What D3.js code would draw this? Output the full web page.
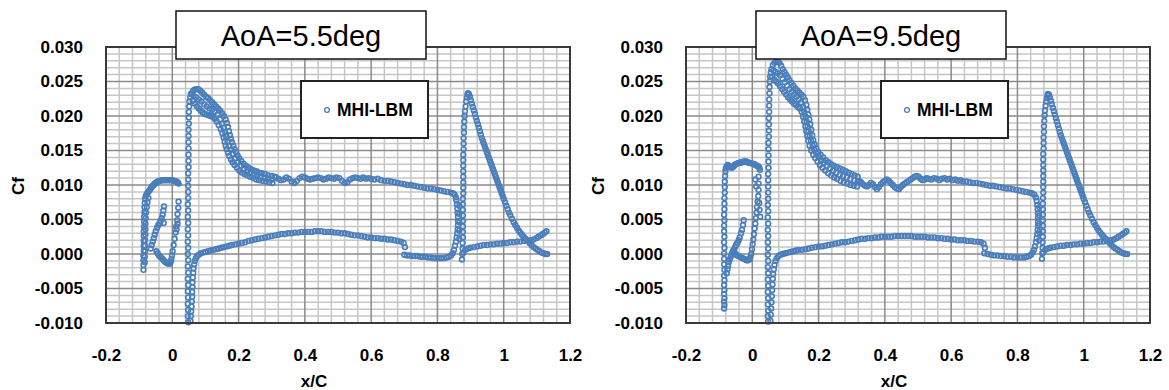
<!DOCTYPE html>
<html lang="en">
<head>
<meta charset="UTF-8">
<title>Cf distribution - MHI-LBM</title>
<script src="https://d3js.org/d3.v7.min.js"></script>
<style>
  body { margin: 0; background: #fff; }
  text { font-family: "Liberation Sans", Arial, sans-serif; }
</style>
</head>
<body>
<script>
// Axis ticks
const xTicks = [-0.2, 0, 0.2, 0.4, 0.6, 0.8, 1, 1.2];
const xTickLabels = ['-0.2', '0', '0.2', '0.4', '0.6', '0.8', '1', '1.2'];
const yTicks = [-0.010, -0.005, 0.000, 0.005, 0.010, 0.015, 0.020, 0.025, 0.030];
const yTickLabels = ['-0.010', '-0.005', '0.000', '0.005', '0.010', '0.015', '0.020', '0.025', '0.030'];
const titles = ['AoA=5.5deg', 'AoA=9.5deg'];
const seriesName = 'MHI-LBM';

// ---------- AoA = 5.5 deg  (x/C, Cf) ----------
const slatTopA = [[-0.087,-0.0023],[-0.087,-0.0016],[-0.087,-0.0009],[-0.087,-0.0002],[-0.086,0.0005],[-0.086,0.0012],[-0.086,0.0019],[-0.086,0.0026],[-0.086,0.0033],[-0.085,0.0040],[-0.085,0.0047],[-0.085,0.0054],[-0.084,0.0061],[-0.084,0.0068],[-0.083,0.0074],[-0.082,0.0080],[-0.080,0.0084],[-0.077,0.0087],[-0.074,0.0089],[-0.071,0.0091],[-0.068,0.0093],[-0.065,0.0095],[-0.062,0.0097],[-0.059,0.0099],[-0.056,0.0100],[-0.053,0.0102],[-0.050,0.0103],[-0.047,0.0104],[-0.044,0.0105],[-0.040,0.0106],[-0.036,0.0106],[-0.032,0.0107],[-0.028,0.0107],[-0.024,0.0107],[-0.020,0.0107],[-0.016,0.0107],[-0.012,0.0107],[-0.008,0.0107],[-0.004,0.0107],[0.000,0.0107],[0.004,0.0106],[0.008,0.0106],[0.012,0.0105],[0.016,0.0104],[0.019,0.0102]];
const slatInnerA = [[-0.083,-0.0012],[-0.083,-0.0004],[-0.082,0.0004],[-0.082,0.0012],[-0.082,0.0020],[-0.081,0.0028],[-0.081,0.0036],[-0.081,0.0044],[-0.080,0.0052],[-0.079,0.0060],[-0.077,0.0068],[-0.075,0.0075],[-0.072,0.0081]];
const slatBranchA = [[-0.025,0.0069],[-0.027,0.0063],[-0.029,0.0057],[-0.032,0.0052],[-0.035,0.0048],[-0.038,0.0045],[-0.042,0.0042],[-0.046,0.0038],[-0.050,0.0033],[-0.053,0.0028],[-0.056,0.0023],[-0.059,0.0018],[-0.062,0.0013],[-0.065,0.0008],[-0.026,0.0045]];
const slatHookA = [[-0.048,0.0004],[-0.044,0.0001],[-0.040,-0.0002],[-0.036,-0.0004],[-0.032,-0.0006],[-0.028,-0.0008],[-0.024,-0.0010],[-0.020,-0.0012],[-0.016,-0.0013],[-0.012,-0.0014],[-0.008,-0.0014],[-0.005,-0.0012],[-0.003,-0.0008],[-0.001,-0.0002],[0.001,0.0004],[0.004,0.0013],[0.007,0.0022],[0.010,0.0031],[0.012,0.0040],[0.015,0.0049],[0.016,0.0058],[0.018,0.0067],[0.019,0.0076],[0.013,0.0036],[0.016,0.0044]];
const mainLEA = [[0.048,-0.0099],[0.047,-0.0090],[0.048,-0.0081],[0.047,-0.0072],[0.048,-0.0063],[0.047,-0.0054],[0.048,-0.0045],[0.047,-0.0036],[0.048,-0.0027],[0.047,-0.0018],[0.048,-0.0009],[0.047,0.0000],[0.048,0.0009],[0.047,0.0018],[0.048,0.0027],[0.047,0.0036],[0.048,0.0045],[0.047,0.0054],[0.048,0.0063],[0.047,0.0072],[0.048,0.0081],[0.048,0.0090],[0.048,0.0099],[0.048,0.0108],[0.048,0.0117],[0.049,0.0126],[0.049,0.0135],[0.049,0.0144],[0.049,0.0153],[0.049,0.0162],[0.049,0.0171],[0.049,0.0180],[0.050,0.0189],[0.050,0.0198],[0.050,0.0206],[0.051,0.0214],[0.052,0.0221],[0.054,0.0227],[0.056,0.0232]];
const mainUpperA1 = [[0.058,0.0232],[0.062,0.0236],[0.067,0.0238],[0.072,0.0239],[0.078,0.0239],[0.084,0.0237],[0.090,0.0234],[0.096,0.0231],[0.102,0.0228],[0.108,0.0226],[0.114,0.0223],[0.120,0.0220],[0.126,0.0217],[0.132,0.0214],[0.138,0.0211],[0.144,0.0208],[0.150,0.0204],[0.156,0.0200],[0.161,0.0195],[0.165,0.0190],[0.168,0.0184],[0.171,0.0178],[0.174,0.0172],[0.177,0.0167],[0.180,0.0162],[0.184,0.0157],[0.188,0.0152],[0.192,0.0148],[0.197,0.0143],[0.202,0.0139],[0.208,0.0135],[0.215,0.0131],[0.222,0.0128],[0.230,0.0125],[0.238,0.0123],[0.246,0.0121],[0.254,0.0120],[0.262,0.0118],[0.270,0.0117],[0.280,0.0116],[0.290,0.0114],[0.300,0.0113],[0.310,0.0112]];
const mainUpperAm = [[0.064,0.0229],[0.072,0.0227],[0.080,0.0224],[0.088,0.0221],[0.096,0.0217],[0.104,0.0214],[0.112,0.0211],[0.120,0.0209],[0.128,0.0206],[0.136,0.0202],[0.144,0.0195],[0.150,0.0189],[0.155,0.0183],[0.159,0.0177],[0.163,0.0170],[0.167,0.0163],[0.172,0.0157],[0.177,0.0151],[0.183,0.0145],[0.190,0.0139],[0.198,0.0133],[0.207,0.0128],[0.216,0.0124],[0.226,0.0120],[0.236,0.0117],[0.246,0.0115],[0.256,0.0114],[0.266,0.0112],[0.278,0.0110],[0.290,0.0109],[0.302,0.0108]];
const mainUpperA2 = [[0.062,0.0222],[0.068,0.0218],[0.074,0.0214],[0.080,0.0211],[0.086,0.0208],[0.092,0.0205],[0.098,0.0203],[0.104,0.0202],[0.110,0.0201],[0.116,0.0200],[0.122,0.0199],[0.128,0.0196],[0.134,0.0192],[0.140,0.0187],[0.146,0.0181],[0.151,0.0175],[0.155,0.0169],[0.158,0.0163],[0.161,0.0157],[0.164,0.0152],[0.168,0.0147],[0.172,0.0142],[0.177,0.0137],[0.182,0.0133],[0.188,0.0129],[0.195,0.0125],[0.202,0.0121],[0.210,0.0118],[0.218,0.0116],[0.226,0.0114],[0.235,0.0112],[0.244,0.0110],[0.253,0.0108],[0.262,0.0107],[0.272,0.0106],[0.282,0.0105],[0.292,0.0104],[0.302,0.0103]];
const mainUpperA3 = [[0.312,0.0111],[0.320,0.0109],[0.328,0.0107],[0.336,0.0108],[0.344,0.0111],[0.352,0.0109],[0.360,0.0105],[0.368,0.0103],[0.376,0.0106],[0.384,0.0110],[0.392,0.0112],[0.400,0.0111],[0.408,0.0109],[0.416,0.0108],[0.424,0.0109],[0.432,0.0110],[0.440,0.0111],[0.448,0.0110],[0.456,0.0108],[0.464,0.0109],[0.472,0.0111],[0.480,0.0110],[0.488,0.0109],[0.496,0.0111],[0.504,0.0110],[0.512,0.0106],[0.520,0.0103],[0.528,0.0104],[0.536,0.0108],[0.544,0.0110],[0.552,0.0111],[0.560,0.0110],[0.568,0.0109],[0.576,0.0111],[0.584,0.0109],[0.592,0.0110],[0.600,0.0109],[0.610,0.0108],[0.620,0.0109],[0.630,0.0107],[0.640,0.0106],[0.650,0.0106],[0.660,0.0105],[0.670,0.0104],[0.680,0.0103],[0.690,0.0102],[0.700,0.0101],[0.710,0.0100],[0.720,0.0100],[0.730,0.0099],[0.740,0.0098],[0.750,0.0097],[0.760,0.0096],[0.770,0.0095],[0.780,0.0095],[0.790,0.0094],[0.800,0.0093],[0.810,0.0092],[0.820,0.0091],[0.830,0.0090],[0.840,0.0089],[0.847,0.0088],[0.852,0.0086],[0.856,0.0082]];
const mainTEA = [[0.857,0.0078],[0.859,0.0072],[0.860,0.0066],[0.861,0.0060],[0.862,0.0054],[0.862,0.0048],[0.862,0.0042],[0.861,0.0036],[0.860,0.0030],[0.858,0.0024],[0.856,0.0018],[0.853,0.0012],[0.850,0.0006],[0.846,0.0001],[0.866,0.0070],[0.866,0.0058],[0.866,0.0046],[0.866,0.0034],[0.866,0.0022]];
const mainLowerA = [[0.055,-0.0097],[0.056,-0.0090],[0.057,-0.0083],[0.058,-0.0076],[0.059,-0.0069],[0.060,-0.0062],[0.060,-0.0055],[0.061,-0.0048],[0.061,-0.0041],[0.062,-0.0034],[0.063,-0.0027],[0.064,-0.0021],[0.066,-0.0015],[0.068,-0.0010],[0.071,-0.0006],[0.075,-0.0003],[0.080,-0.0001],[0.086,0.0001],[0.093,0.0002],[0.100,0.0003],[0.108,0.0004],[0.116,0.0005],[0.124,0.0006],[0.132,0.0007],[0.140,0.0008],[0.148,0.0009],[0.156,0.0010],[0.164,0.0011],[0.172,0.0012],[0.180,0.0013],[0.190,0.0014],[0.200,0.0015],[0.210,0.0016],[0.220,0.0017],[0.230,0.0019],[0.240,0.0020],[0.250,0.0021],[0.260,0.0022],[0.270,0.0023],[0.280,0.0024],[0.290,0.0025],[0.300,0.0026],[0.310,0.0027],[0.320,0.0028],[0.330,0.0029],[0.340,0.0029],[0.350,0.0030],[0.360,0.0030],[0.370,0.0031],[0.380,0.0031],[0.390,0.0032],[0.400,0.0032],[0.410,0.0032],[0.420,0.0032],[0.430,0.0033],[0.440,0.0033],[0.450,0.0033],[0.460,0.0032],[0.470,0.0032],[0.480,0.0032],[0.490,0.0031],[0.500,0.0031],[0.510,0.0030],[0.520,0.0030],[0.530,0.0029],[0.540,0.0028],[0.550,0.0027],[0.560,0.0027],[0.570,0.0026],[0.580,0.0025],[0.590,0.0024],[0.600,0.0024],[0.610,0.0023],[0.620,0.0023],[0.630,0.0022],[0.640,0.0022],[0.650,0.0021],[0.660,0.0021],[0.670,0.0020],[0.680,0.0019],[0.690,0.0018],[0.698,0.0016],[0.702,0.0010]];
const coveA = [[0.700,-0.0001],[0.708,-0.0002],[0.716,-0.0002],[0.724,-0.0003],[0.732,-0.0003],[0.740,-0.0003],[0.748,-0.0004],[0.756,-0.0004],[0.764,-0.0004],[0.772,-0.0005],[0.780,-0.0005],[0.788,-0.0006],[0.796,-0.0006],[0.804,-0.0006],[0.812,-0.0006],[0.820,-0.0006],[0.828,-0.0005],[0.835,-0.0004],[0.841,-0.0002]];
const flapLEA = [[0.874,-0.0008],[0.875,0.0000],[0.876,0.0008],[0.876,0.0016],[0.877,0.0024],[0.877,0.0032],[0.877,0.0040],[0.877,0.0048],[0.877,0.0056],[0.877,0.0064],[0.877,0.0072],[0.877,0.0080],[0.878,0.0088],[0.878,0.0096],[0.878,0.0104],[0.878,0.0112],[0.878,0.0120],[0.878,0.0128],[0.878,0.0136],[0.878,0.0144],[0.879,0.0152],[0.879,0.0160],[0.879,0.0168],[0.880,0.0176],[0.880,0.0184],[0.881,0.0192],[0.882,0.0200],[0.883,0.0207],[0.885,0.0214],[0.887,0.0221],[0.889,0.0227],[0.891,0.0231]];
const flapUpperA = [[0.892,0.0233],[0.895,0.0232],[0.898,0.0228],[0.901,0.0223],[0.904,0.0218],[0.907,0.0213],[0.910,0.0208],[0.913,0.0203],[0.916,0.0198],[0.919,0.0193],[0.922,0.0188],[0.925,0.0183],[0.928,0.0178],[0.931,0.0173],[0.934,0.0168],[0.937,0.0164],[0.940,0.0160],[0.943,0.0156],[0.946,0.0152],[0.949,0.0148],[0.952,0.0144],[0.955,0.0140],[0.958,0.0136],[0.961,0.0132],[0.964,0.0128],[0.967,0.0124],[0.970,0.0120],[0.973,0.0116],[0.976,0.0112],[0.979,0.0108],[0.982,0.0104],[0.985,0.0100],[0.988,0.0096],[0.991,0.0092],[0.994,0.0088],[0.997,0.0084],[1.000,0.0080],[1.004,0.0075],[1.008,0.0070],[1.012,0.0065],[1.016,0.0060],[1.020,0.0056],[1.025,0.0051],[1.030,0.0046],[1.035,0.0042],[1.040,0.0038],[1.045,0.0034],[1.050,0.0031],[1.055,0.0028],[1.060,0.0025],[1.066,0.0022],[1.072,0.0019],[1.078,0.0016],[1.084,0.0013],[1.090,0.0010],[1.096,0.0008],[1.102,0.0006],[1.108,0.0004],[1.114,0.0002],[1.120,0.0001],[1.126,0.0000],[1.131,0.0000]];
const flapLowerA = [[0.878,0.0002],[0.884,0.0006],[0.892,0.0008],[0.900,0.0009],[0.910,0.0010],[0.920,0.0011],[0.930,0.0012],[0.940,0.0013],[0.950,0.0013],[0.960,0.0014],[0.970,0.0014],[0.980,0.0015],[0.990,0.0015],[1.000,0.0016],[1.010,0.0016],[1.020,0.0017],[1.030,0.0017],[1.040,0.0018],[1.050,0.0018],[1.060,0.0019],[1.070,0.0019],[1.080,0.0020],[1.090,0.0021],[1.098,0.0023],[1.105,0.0025],[1.112,0.0027],[1.118,0.0029],[1.124,0.0031],[1.129,0.0033]];

// ---------- AoA = 9.5 deg  (x/C, Cf) ----------
const slatColB = [[-0.085,-0.0079],[-0.084,-0.0074],[-0.085,-0.0069],[-0.084,-0.0064],[-0.085,-0.0058],[-0.084,-0.0052],[-0.085,-0.0045],[-0.084,-0.0038],[-0.085,-0.0031],[-0.084,-0.0023],[-0.085,-0.0015],[-0.085,-0.0007],[-0.085,0.0001],[-0.084,0.0009],[-0.085,0.0017],[-0.084,0.0025],[-0.085,0.0033],[-0.085,0.0041],[-0.084,0.0049],[-0.085,0.0057],[-0.084,0.0065],[-0.084,0.0073],[-0.084,0.0081],[-0.083,0.0089],[-0.083,0.0097],[-0.083,0.0105],[-0.082,0.0113],[-0.081,0.0120]];
const slatTopB = [[-0.080,0.0124],[-0.077,0.0127],[-0.074,0.0129],[-0.071,0.0128],[-0.068,0.0127],[-0.065,0.0126],[-0.062,0.0125],[-0.059,0.0126],[-0.056,0.0127],[-0.053,0.0129],[-0.050,0.0130],[-0.046,0.0131],[-0.042,0.0132],[-0.038,0.0132],[-0.034,0.0133],[-0.030,0.0133],[-0.026,0.0134],[-0.022,0.0134],[-0.018,0.0134],[-0.014,0.0133],[-0.010,0.0132],[-0.006,0.0132],[-0.002,0.0131],[0.002,0.0131],[0.006,0.0130],[0.010,0.0129],[0.014,0.0128],[0.018,0.0127],[0.021,0.0125],[0.023,0.0122]];
const slatBranchB = [[-0.026,0.0049],[-0.028,0.0042],[-0.031,0.0035],[-0.034,0.0030],[-0.038,0.0024],[-0.041,0.0020],[-0.045,0.0016],[-0.049,0.0013],[-0.052,0.0010],[-0.056,0.0006],[-0.059,0.0003],[-0.062,0.0000],[-0.065,-0.0004],[-0.068,-0.0008],[-0.071,-0.0012],[-0.073,-0.0017],[-0.075,-0.0022],[-0.077,-0.0028]];
const slatHookB = [[-0.057,0.0005],[-0.053,0.0002],[-0.049,-0.0001],[-0.045,-0.0002],[-0.041,-0.0003],[-0.037,-0.0004],[-0.033,-0.0005],[-0.029,-0.0006],[-0.025,-0.0007],[-0.021,-0.0008],[-0.017,-0.0009],[-0.013,-0.0009],[-0.009,-0.0008],[-0.006,-0.0005],[-0.003,0.0000],[-0.001,0.0007],[0.001,0.0014],[0.003,0.0021],[0.005,0.0029],[0.007,0.0037],[0.009,0.0044],[0.011,0.0052],[0.013,0.0060],[0.014,0.0068],[0.016,0.0076],[0.018,0.0084],[0.019,0.0093],[0.019,0.0102],[0.019,0.0112],[0.009,0.0108],[0.012,0.0098],[0.024,0.0054],[0.022,0.0064],[0.021,0.0074]];
const mainLEB = [[0.048,-0.0098],[0.047,-0.0090],[0.048,-0.0082],[0.047,-0.0073],[0.048,-0.0064],[0.047,-0.0055],[0.048,-0.0046],[0.047,-0.0037],[0.048,-0.0028],[0.047,-0.0019],[0.048,-0.0010],[0.047,-0.0001],[0.048,0.0008],[0.047,0.0017],[0.048,0.0026],[0.047,0.0035],[0.048,0.0044],[0.047,0.0053],[0.048,0.0062],[0.047,0.0071],[0.048,0.0080],[0.048,0.0089],[0.048,0.0098],[0.048,0.0107],[0.048,0.0116],[0.049,0.0125],[0.049,0.0134],[0.049,0.0143],[0.049,0.0152],[0.049,0.0161],[0.050,0.0170],[0.050,0.0179],[0.050,0.0188],[0.050,0.0197],[0.051,0.0206],[0.051,0.0215],[0.051,0.0224],[0.052,0.0233],[0.052,0.0242],[0.053,0.0250],[0.054,0.0257],[0.056,0.0263]];
const mainUpperB1 = [[0.058,0.0268],[0.062,0.0274],[0.067,0.0277],[0.072,0.0279],[0.077,0.0279],[0.082,0.0277],[0.087,0.0273],[0.092,0.0268],[0.097,0.0264],[0.102,0.0260],[0.107,0.0256],[0.112,0.0252],[0.118,0.0248],[0.124,0.0244],[0.130,0.0240],[0.136,0.0237],[0.142,0.0234],[0.148,0.0231],[0.154,0.0228],[0.159,0.0223],[0.163,0.0216],[0.166,0.0209],[0.169,0.0202],[0.172,0.0195],[0.175,0.0188],[0.178,0.0180],[0.181,0.0172],[0.184,0.0165],[0.188,0.0159],[0.193,0.0153],[0.199,0.0148],[0.206,0.0144],[0.214,0.0140],[0.222,0.0136],[0.230,0.0133],[0.238,0.0130],[0.246,0.0128],[0.255,0.0126],[0.264,0.0124],[0.273,0.0122],[0.282,0.0120],[0.291,0.0118],[0.300,0.0116],[0.309,0.0114],[0.318,0.0112]];
const mainUpperBm = [[0.064,0.0266],[0.070,0.0264],[0.077,0.0262],[0.084,0.0259],[0.091,0.0254],[0.098,0.0249],[0.105,0.0244],[0.112,0.0239],[0.119,0.0235],[0.126,0.0231],[0.133,0.0228],[0.140,0.0224],[0.147,0.0220],[0.153,0.0213],[0.157,0.0206],[0.161,0.0199],[0.164,0.0192],[0.167,0.0185],[0.170,0.0178],[0.173,0.0171],[0.177,0.0164],[0.182,0.0157],[0.187,0.0151],[0.193,0.0146],[0.200,0.0141],[0.208,0.0136],[0.216,0.0132],[0.225,0.0128],[0.234,0.0124],[0.244,0.0121],[0.254,0.0118],[0.264,0.0115],[0.274,0.0113],[0.285,0.0111],[0.296,0.0109],[0.308,0.0107],[0.318,0.0105]];
const mainUpperB2 = [[0.060,0.0257],[0.066,0.0253],[0.072,0.0250],[0.078,0.0247],[0.084,0.0243],[0.090,0.0239],[0.096,0.0235],[0.102,0.0231],[0.108,0.0227],[0.114,0.0224],[0.120,0.0221],[0.126,0.0218],[0.132,0.0216],[0.138,0.0213],[0.144,0.0211],[0.149,0.0206],[0.153,0.0199],[0.157,0.0192],[0.160,0.0185],[0.163,0.0178],[0.166,0.0171],[0.169,0.0164],[0.173,0.0157],[0.178,0.0150],[0.184,0.0144],[0.190,0.0139],[0.197,0.0134],[0.204,0.0129],[0.212,0.0125],[0.220,0.0121],[0.229,0.0117],[0.238,0.0114],[0.247,0.0111],[0.256,0.0109],[0.266,0.0106],[0.276,0.0104],[0.286,0.0102],[0.296,0.0100],[0.306,0.0099],[0.316,0.0098]];
const mainUpperB3 = [[0.322,0.0106],[0.328,0.0104],[0.334,0.0101],[0.340,0.0099],[0.346,0.0098],[0.352,0.0100],[0.358,0.0103],[0.364,0.0101],[0.370,0.0097],[0.376,0.0094],[0.382,0.0097],[0.388,0.0101],[0.394,0.0104],[0.400,0.0106],[0.406,0.0108],[0.412,0.0106],[0.418,0.0103],[0.424,0.0100],[0.430,0.0097],[0.436,0.0095],[0.442,0.0094],[0.448,0.0097],[0.454,0.0100],[0.460,0.0102],[0.466,0.0104],[0.472,0.0106],[0.478,0.0108],[0.484,0.0110],[0.490,0.0112],[0.496,0.0113],[0.502,0.0112],[0.508,0.0109],[0.514,0.0107],[0.520,0.0108],[0.526,0.0110],[0.532,0.0109],[0.540,0.0108],[0.548,0.0110],[0.556,0.0109],[0.564,0.0107],[0.572,0.0109],[0.580,0.0110],[0.588,0.0108],[0.596,0.0109],[0.604,0.0107],[0.612,0.0108],[0.620,0.0106],[0.628,0.0107],[0.636,0.0105],[0.646,0.0105],[0.656,0.0104],[0.666,0.0103],[0.676,0.0103],[0.686,0.0102],[0.696,0.0101],[0.706,0.0100],[0.716,0.0099],[0.726,0.0099],[0.736,0.0098],[0.746,0.0097],[0.756,0.0096],[0.766,0.0095],[0.776,0.0095],[0.786,0.0094],[0.796,0.0093],[0.806,0.0092],[0.816,0.0091],[0.826,0.0090],[0.836,0.0089],[0.844,0.0088],[0.851,0.0086],[0.856,0.0082]];
const mainTEB = [[0.858,0.0077],[0.860,0.0071],[0.861,0.0065],[0.862,0.0059],[0.862,0.0053],[0.862,0.0047],[0.862,0.0041],[0.861,0.0035],[0.860,0.0029],[0.858,0.0023],[0.856,0.0017],[0.853,0.0011],[0.850,0.0006],[0.846,0.0002],[0.866,0.0068],[0.866,0.0056],[0.866,0.0044],[0.866,0.0032],[0.866,0.0020]];
const mainLowerB = [[0.055,-0.0097],[0.056,-0.0088],[0.057,-0.0079],[0.058,-0.0070],[0.059,-0.0061],[0.060,-0.0052],[0.061,-0.0044],[0.062,-0.0036],[0.063,-0.0029],[0.065,-0.0022],[0.067,-0.0016],[0.070,-0.0010],[0.074,-0.0006],[0.079,-0.0003],[0.085,-0.0001],[0.092,0.0000],[0.100,0.0001],[0.108,0.0002],[0.116,0.0003],[0.124,0.0004],[0.132,0.0005],[0.140,0.0006],[0.150,0.0006],[0.160,0.0007],[0.170,0.0008],[0.180,0.0009],[0.190,0.0010],[0.200,0.0011],[0.210,0.0011],[0.220,0.0012],[0.230,0.0013],[0.240,0.0014],[0.250,0.0015],[0.260,0.0016],[0.270,0.0017],[0.280,0.0017],[0.290,0.0018],[0.300,0.0019],[0.310,0.0020],[0.320,0.0021],[0.330,0.0022],[0.340,0.0022],[0.350,0.0023],[0.360,0.0023],[0.370,0.0024],[0.380,0.0024],[0.390,0.0025],[0.400,0.0025],[0.410,0.0025],[0.420,0.0025],[0.430,0.0026],[0.440,0.0026],[0.450,0.0026],[0.460,0.0026],[0.470,0.0026],[0.480,0.0026],[0.490,0.0025],[0.500,0.0025],[0.510,0.0025],[0.520,0.0025],[0.530,0.0024],[0.540,0.0024],[0.550,0.0024],[0.560,0.0023],[0.570,0.0023],[0.580,0.0022],[0.590,0.0022],[0.600,0.0021],[0.610,0.0021],[0.620,0.0020],[0.630,0.0020],[0.640,0.0020],[0.650,0.0019],[0.660,0.0019],[0.670,0.0018],[0.680,0.0018],[0.690,0.0017],[0.698,0.0015],[0.702,0.0009]];
const coveB = [[0.700,0.0001],[0.710,0.0000],[0.720,-0.0001],[0.730,-0.0002],[0.740,-0.0002],[0.750,-0.0003],[0.760,-0.0003],[0.770,-0.0004],[0.780,-0.0004],[0.790,-0.0005],[0.800,-0.0005],[0.810,-0.0005],[0.820,-0.0005],[0.828,-0.0004],[0.835,-0.0003],[0.841,-0.0001]];
const flapLEB = [[0.874,-0.0007],[0.875,0.0001],[0.876,0.0009],[0.876,0.0017],[0.877,0.0025],[0.877,0.0033],[0.877,0.0041],[0.877,0.0049],[0.877,0.0057],[0.877,0.0065],[0.877,0.0073],[0.877,0.0081],[0.878,0.0089],[0.878,0.0097],[0.878,0.0105],[0.878,0.0113],[0.878,0.0121],[0.878,0.0129],[0.878,0.0137],[0.878,0.0145],[0.879,0.0153],[0.879,0.0161],[0.879,0.0169],[0.880,0.0177],[0.880,0.0185],[0.881,0.0193],[0.882,0.0201],[0.883,0.0208],[0.885,0.0215],[0.887,0.0221],[0.889,0.0226],[0.891,0.0230]];
const flapUpperB = [[0.892,0.0232],[0.895,0.0231],[0.898,0.0227],[0.901,0.0222],[0.904,0.0217],[0.907,0.0212],[0.910,0.0207],[0.913,0.0202],[0.916,0.0197],[0.919,0.0192],[0.922,0.0187],[0.925,0.0182],[0.928,0.0177],[0.931,0.0172],[0.934,0.0168],[0.937,0.0164],[0.940,0.0160],[0.943,0.0156],[0.946,0.0152],[0.949,0.0148],[0.952,0.0144],[0.955,0.0140],[0.958,0.0136],[0.961,0.0132],[0.964,0.0128],[0.967,0.0124],[0.970,0.0120],[0.973,0.0116],[0.976,0.0112],[0.979,0.0108],[0.982,0.0104],[0.985,0.0100],[0.988,0.0096],[0.991,0.0092],[0.994,0.0088],[0.997,0.0084],[1.000,0.0080],[1.004,0.0075],[1.008,0.0070],[1.012,0.0065],[1.016,0.0060],[1.020,0.0056],[1.025,0.0051],[1.030,0.0046],[1.035,0.0042],[1.040,0.0038],[1.045,0.0034],[1.050,0.0031],[1.055,0.0028],[1.060,0.0025],[1.066,0.0022],[1.072,0.0019],[1.078,0.0016],[1.084,0.0013],[1.090,0.0010],[1.096,0.0008],[1.102,0.0006],[1.108,0.0004],[1.114,0.0002],[1.120,0.0001],[1.126,0.0000],[1.131,0.0000]];
const flapLowerB = [[0.878,0.0002],[0.884,0.0006],[0.892,0.0008],[0.900,0.0009],[0.910,0.0010],[0.920,0.0011],[0.930,0.0012],[0.940,0.0012],[0.950,0.0013],[0.960,0.0013],[0.970,0.0014],[0.980,0.0014],[0.990,0.0015],[1.000,0.0015],[1.010,0.0016],[1.020,0.0016],[1.030,0.0017],[1.040,0.0017],[1.050,0.0018],[1.060,0.0018],[1.070,0.0019],[1.080,0.0020],[1.090,0.0021],[1.098,0.0023],[1.105,0.0025],[1.112,0.0027],[1.118,0.0029],[1.124,0.0031],[1.129,0.0033]];

const pointsA = [].concat(slatTopA, slatInnerA, slatBranchA, slatHookA, mainLEA, mainUpperA1, mainUpperAm, mainUpperA2, mainUpperA3, mainTEA, mainLowerA, coveA, flapLEA, flapUpperA, flapLowerA);
const pointsB = [].concat(slatColB, slatTopB, slatBranchB, slatHookB, mainLEB, mainUpperB1, mainUpperBm, mainUpperB2, mainUpperB3, mainTEB, mainLowerB, coveB, flapLEB, flapUpperB, flapLowerB);

// Layout
const width = 1169, height = 390;
const plotW = 464, plotH = 276;
const panelStep = 580;
const blue = '#4a7ebb';

const svg = d3.select('body').append('svg')
    .attr('width', width)
    .attr('height', height);

const x = d3.scaleLinear().domain([-0.2, 1.2]).range([0, plotW]);
const y = d3.scaleLinear().domain([-0.01, 0.03]).range([plotH, 0]);

// minor grid: every 0.04 in x, every 0.001 in y
const xMinor = d3.range(36).map(i => -0.2 + i * 0.04).filter((v, i) => i % 5 !== 0);
const yMinor = d3.range(41).map(i => -0.01 + i * 0.001).filter((v, i) => i % 5 !== 0);

function drawPanel(idx, data) {
    const g = svg.append('g')
        .attr('transform', `translate(${106 + idx * panelStep},47)`);

    g.append('rect').attr('width', plotW).attr('height', plotH).attr('fill', '#fff');

    // Gridlines
    g.selectAll('.vmin').data(xMinor).enter().append('line')
        .attr('x1', d => x(d)).attr('x2', d => x(d))
        .attr('y1', 0).attr('y2', plotH)
        .attr('stroke', '#c6c6c6').attr('stroke-width', 1.5);
    g.selectAll('.hmin').data(yMinor).enter().append('line')
        .attr('x1', 0).attr('x2', plotW)
        .attr('y1', d => y(d)).attr('y2', d => y(d))
        .attr('stroke', '#c6c6c6').attr('stroke-width', 1.5);
    g.selectAll('.vmaj').data(xTicks).enter().append('line')
        .attr('x1', d => x(d)).attr('x2', d => x(d))
        .attr('y1', 0).attr('y2', plotH)
        .attr('stroke', '#8a8a8a').attr('stroke-width', 1.5);
    g.selectAll('.hmaj').data(yTicks).enter().append('line')
        .attr('x1', 0).attr('x2', plotW)
        .attr('y1', d => y(d)).attr('y2', d => y(d))
        .attr('stroke', '#8a8a8a').attr('stroke-width', 1.5);

    // Markers
    g.selectAll('.pt').data(data).enter().append('circle')
        .attr('cx', d => x(d[0]))
        .attr('cy', d => y(d[1]))
        .attr('r', 2.4)
        .attr('fill', 'none')
        .attr('stroke', blue)
        .attr('stroke-width', 1.6);

    // Plot border
    g.append('rect').attr('width', plotW).attr('height', plotH)
        .attr('fill', 'none').attr('stroke', '#3a3a3a').attr('stroke-width', 2);

    // Axes
    const xAxis = g.append('g')
        .attr('transform', `translate(0,${plotH})`)
        .call(d3.axisBottom(x).tickValues(xTicks).tickSize(0).tickPadding(26)
            .tickFormat((d, i) => xTickLabels[i]));
    xAxis.select('.domain').remove();
    xAxis.selectAll('text')
        .style('font-family', '"Liberation Sans", Arial, sans-serif')
        .style('font-size', '17px').style('font-weight', 'bold').attr('fill', '#000');

    const yAxis = g.append('g')
        .call(d3.axisLeft(y).tickValues(yTicks).tickSize(0).tickPadding(23)
            .tickFormat((d, i) => yTickLabels[i]));
    yAxis.select('.domain').remove();
    yAxis.selectAll('text')
        .style('font-family', '"Liberation Sans", Arial, sans-serif')
        .style('font-size', '17px').style('font-weight', 'bold').attr('fill', '#000');

    // Axis titles
    g.append('text')
        .attr('transform', `translate(-82,${plotH / 2 + 1}) rotate(-90)`)
        .attr('text-anchor', 'middle')
        .style('font-size', '17px').style('font-weight', 'bold')
        .text('Cf');
    g.append('text')
        .attr('x', 208).attr('y', 340)
        .attr('text-anchor', 'middle')
        .style('font-size', '17px').style('font-weight', 'bold')
        .text('x/C');

    // Title box
    g.append('rect')
        .attr('x', 70).attr('y', -36).attr('width', 250).attr('height', 48)
        .attr('fill', '#fff').attr('stroke', '#111').attr('stroke-width', 1.5);
    g.append('text')
        .attr('x', 195).attr('y', -1)
        .attr('text-anchor', 'middle')
        .style('font-size', '29px')
        .text(titles[idx]);

    // Legend
    g.append('rect')
        .attr('x', 195).attr('y', 34).attr('width', 127).attr('height', 57)
        .attr('fill', '#fff').attr('stroke', '#222').attr('stroke-width', 2);
    g.append('circle')
        .attr('cx', 221).attr('cy', 63).attr('r', 2.4)
        .attr('fill', 'none').attr('stroke', blue).attr('stroke-width', 1.3);
    g.append('text')
        .attr('x', 231).attr('y', 69)
        .style('font-size', '17.5px').style('font-weight', 'bold')
        .text(seriesName);
}

drawPanel(0, pointsA);
drawPanel(1, pointsB);
</script>
</body>
</html>
